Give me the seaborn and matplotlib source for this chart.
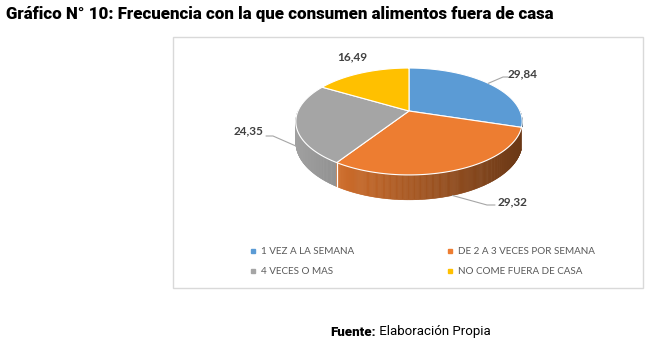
import numpy as np
import matplotlib
matplotlib.use("Agg")
import matplotlib.pyplot as plt
import seaborn as sns
from matplotlib.patches import Rectangle
from matplotlib.collections import PolyCollection
from matplotlib.lines import Line2D
import matplotlib.colors as mcolors

# ---------------- data ----------------
categories = ["1 VEZ A LA SEMANA", "DE 2 A 3 VECES POR SEMANA",
              "4 VECES O MAS", "NO COME FUERA DE CASA"]
values = [29.84, 29.32, 24.35, 16.49]
value_labels = ["29,84", "29,32", "24,35", "16,49"]
colors = ["#5B9BD5", "#ED7D31", "#A5A5A5", "#FFC000"]
title = "Gráfico N° 10: Frecuencia con la que consumen alimentos fuera de casa"
source_bold = "Fuente:"
source_text = " Elaboración Propia"

# ---------------- style ----------------
sns.set_theme(style="white")
plt.rcParams['font.family'] = ['Lato', 'DejaVu Sans']
palette = sns.color_palette(colors)

W, H = 649, 347
fig = plt.figure(figsize=(W / 100, H / 100), dpi=100)
ax = fig.add_axes([0, 0, 1, 1])
ax.set_xlim(0, W)
ax.set_ylim(H, 0)
ax.axis('off')

# chart frame
ax.add_patch(Rectangle((173, 37), 470, 251, fill=False, edgecolor="#D9D9D9", lw=1.0, zorder=0))

# 3D pie geometry (perspective projection of a disc)
CX, CY = 409, 111
RA, RB, PERSP, DEPTH = 111, 51.4, 0.196, 20.0


def proj(t, down=0.0):
    x, y = np.cos(t), np.sin(t)
    w = 1 + PERSP * y
    return CX + RA * x / w, CY - RB * y / w + DEPTH * down / w


vals = np.array(values, dtype=float)
frac = vals / vals.sum()
bounds = np.deg2rad(90 - 360 * np.concatenate([[0], np.cumsum(frac)]))

# side walls (visible part between -180 and 0 degrees)
polys, pcols, depths = [], [], []
lo_vis, hi_vis = np.deg2rad(-180), 0.0
for i in range(len(vals)):
    t_hi, t_lo = bounds[i], bounds[i + 1]
    a, b = max(t_lo, lo_vis), min(t_hi, hi_vis)
    if b <= a:
        continue
    n = max(2, int(np.rad2deg(b - a) / 0.5))
    ts = np.linspace(a, b, n + 1)
    base = np.array(mcolors.to_rgb(palette[i]))
    for t0, t1 in zip(ts[:-1], ts[1:]):
        q = [proj(t0), proj(t1), proj(t1, 1), proj(t0, 1)]
        sx = proj(0.5 * (t0 + t1))[0]
        f = np.clip(0.97 - 0.52 * (sx - 297) / 224, 0.42, 1.0)
        polys.append(q)
        pcols.append(tuple(base * f))
        depths.append(np.sin(0.5 * (t0 + t1)))
order = np.argsort(-np.array(depths))
pc = PolyCollection([polys[k] for k in order], facecolors=[pcols[k] for k in order],
                    edgecolors=[pcols[k] for k in order], linewidths=0.4, zorder=2)
ax.add_collection(pc)

# white seams on the side
for tb in bounds[1:-1]:
    if lo_vis < tb < hi_vis:
        p0, p1 = proj(tb), proj(tb, 1)
        ax.plot([p0[0], p1[0]], [p0[1], p1[1]], color="white", lw=0.9, zorder=2.5)

# top faces
for i in range(len(vals)):
    ts = np.linspace(bounds[i], bounds[i + 1], 200)
    xs, ys = proj(ts)
    ax.fill(np.concatenate([[CX], xs]), np.concatenate([[CY], ys]),
            facecolor=palette[i], edgecolor="white", lw=0.8, zorder=3)

# data labels with leader lines
label_pos = [(523, 74), (512, 202), (249, 131), (352, 57)]
leader_anchor = [(np.deg2rad(37), 0.0), (np.deg2rad(-71.5), 1.0), (np.deg2rad(-165), 1.0), None]
leader_elbow = [[(503, 77), (508, 77)], [(487, 205), (495, 205)], [(273, 136), (266, 136)], None]
for i in range(len(vals)):
    ax.text(label_pos[i][0], label_pos[i][1], value_labels[i], ha="center", va="center",
            fontsize=8.5, fontweight="bold", color="#404040", zorder=5)
    if leader_anchor[i] is not None:
        ax_, ay_ = proj(leader_anchor[i][0], leader_anchor[i][1])
        xs = [ax_] + [p[0] for p in leader_elbow[i]]
        ys = [ay_] + [p[1] for p in leader_elbow[i]]
        ax.plot(xs, ys, color="#A6A6A6", lw=0.8, zorder=4)

# legend
handles = [Line2D([], [], marker="s", ls="", color=palette[i], markersize=3.2) for i in range(len(vals))]
order_leg = [0, 2, 1, 3]
fig.legend([handles[k] for k in order_leg], [categories[k] for k in order_leg],
           ncol=2, loc="upper left", bbox_to_anchor=(250 / W, 1 - 247 / H),
           frameon=False, fontsize=7.1, handlelength=0.7, handletextpad=0.4,
           columnspacing=9.4, labelspacing=1.15, borderpad=0, borderaxespad=0,
           labelcolor="#595959")

# title and source
fig.canvas.draw()
renderer = fig.canvas.get_renderer()
t = fig.text(6 / W, 1 - 14.5 / H, title, ha="left", va="center", fontsize=10.5,
             fontweight=900, color="black", family=["Roboto", "DejaVu Sans"])
bb = t.get_window_extent(renderer)
t.set_fontsize(10.5 * 550 / bb.width)

fs = 9.0
s1 = fig.text(330 / W, 1 - 332 / H, source_bold, ha="left", va="center", fontsize=fs,
              fontweight=900, color="black", family=["Roboto", "DejaVu Sans"])
s2 = fig.text(330 / W, 1 - 332 / H, source_text, ha="left", va="center", fontsize=fs,
              color="black", family=["Roboto", "DejaVu Sans"])
w_tot = s1.get_window_extent(renderer).width + s2.get_window_extent(renderer).width
fs = fs * 159 / w_tot
s1.set_fontsize(fs)
s2.set_fontsize(fs)
w1 = s1.get_window_extent(renderer).width
s2.set_x((330 + w1) / W)

fig.savefig("out.png", dpi=100)
